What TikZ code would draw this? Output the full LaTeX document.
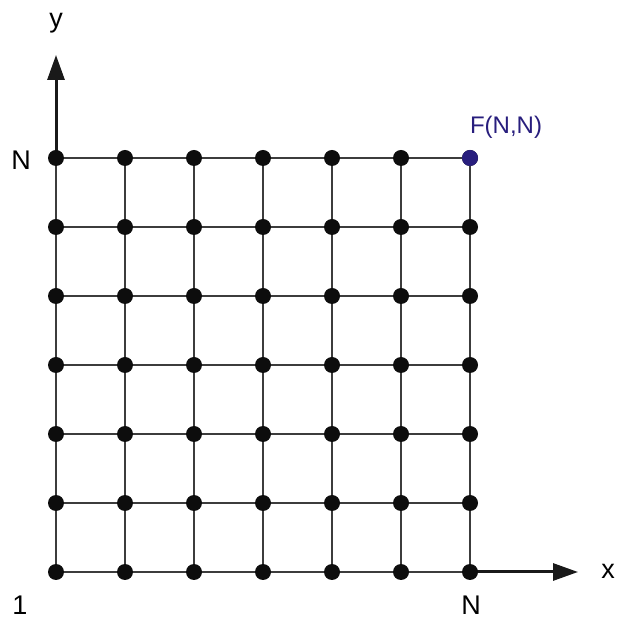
\documentclass[tikz,border=0pt]{standalone}
\usepackage{fontspec}
\setmainfont{Liberation Sans}
\usetikzlibrary{arrows.meta,positioning}
\definecolor{dotblue}{RGB}{40,30,125}
\definecolor{gridgray}{RGB}{60,60,60}

\begin{document}
\begin{tikzpicture}[
x=1pt, y=1pt,
dot/.style={circle, fill=black!95, inner sep=0pt, minimum size=16pt},
enddot/.style={dot, fill=dotblue},
grid line/.style={draw=gridgray, line width=1.3pt},
axis/.style={-{Triangle[length=25pt, width=17pt]}, line width=3pt, black!90},
lab/.style={font=\fontsize{27}{29}\selectfont, inner sep=0pt}
]
\useasboundingbox (0,0) rectangle (620,621);
% lattice points
\foreach \i in {1,...,7}
  \foreach \j in {1,...,7}
    \coordinate (p\i\j) at ({56+69*(\i-1)}, {49+69*(\j-1)});
% grid lines
\foreach \k in {1,...,7} {
  \draw[grid line] (p1\k) -- (p7\k);
  \draw[grid line] (p\k1) -- (p\k7);
}
% axes
\coordinate (ytip) at (56,566);
\coordinate (xtip) at (578,49);
\draw[axis] (p17) -- (ytip);
\draw[axis] (p71) -- (xtip);
% dots
\foreach \i in {1,...,7}
  \foreach \j in {1,...,7}
    \node[dot] (d\i\j) at (p\i\j) {};
\node[enddot] (d77) at (p77) {};
% labels
\node[lab] (ylab) at (56,598) {y};
\node[lab] (xlab) at (608,50) {x};
\node[lab] (ntop) at (21,461) {N};
\node[lab] (one) at (20,16) {1};
\node[lab] (nright) at (471,16) {N};
\node[lab, text=dotblue, font=\fontsize{24}{26}\selectfont] (flab) at (506,494) {F(N,N)};
\end{tikzpicture}
\end{document}
